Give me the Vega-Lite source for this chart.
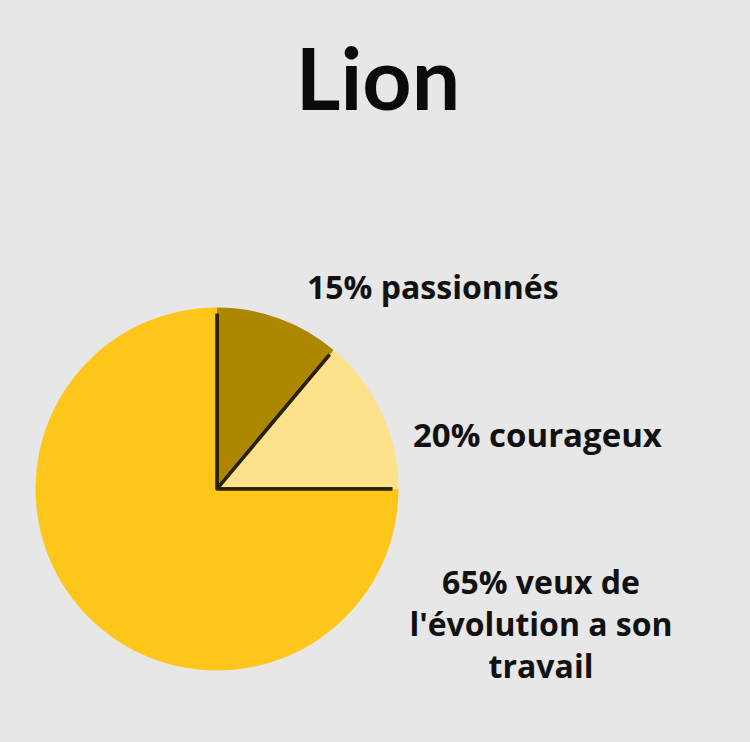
{
  "$schema": "https://vega.github.io/schema/vega-lite/v6.json",
  "autosize": {"type": "none"},
  "width": 362,
  "height": 362,
  "padding": {"left": 36, "top": 308, "right": 352, "bottom": 72},
  "background": "#e7e7e7",
  "config": {"view": {"stroke": null}},
  "data": {
    "values": [
      {"segment": "passionnés", "label": "15% passionnés", "value": 11.1, "order": 1},
      {"segment": "courageux", "label": "20% courageux", "value": 13.9, "order": 2},
      {"segment": "évolution", "label": "65% veux de\nl'évolution a son\ntravail", "value": 75, "order": 3}
    ]
  },
  "layer": [
    {
      "mark": {"type": "arc", "outerRadius": 178, "stroke": "#2a2100", "strokeWidth": 3.5, "strokeJoin": "round"},
      "encoding": {
        "theta": {"field": "value", "type": "quantitative", "stack": true},
        "order": {"field": "order", "type": "quantitative"},
        "color": {
          "field": "segment",
          "type": "nominal",
          "scale": {"domain": ["passionnés", "courageux", "évolution"], "range": ["#ae8700", "#fde28b", "#fec61b"]},
          "legend": null
        }
      }
    },
    {
      "mark": {"type": "arc", "innerRadius": 175.5, "outerRadius": 181.5, "stroke": null},
      "encoding": {
        "theta": {"field": "value", "type": "quantitative", "stack": true},
        "order": {"field": "order", "type": "quantitative"},
        "color": {"field": "segment", "type": "nominal", "legend": null}
      }
    },
    {
      "transform": [{"filter": "datum.order == 1"}],
      "mark": {"type": "text", "x": 271, "y": -9, "align": "left", "baseline": "alphabetic", "font": "Open Sans", "fontWeight": "bold", "fontSize": 32, "color": "#111111", "clip": false},
      "encoding": {"text": {"field": "label", "type": "nominal"}}
    },
    {
      "transform": [{"filter": "datum.order == 2"}],
      "mark": {"type": "text", "x": 377, "y": 139, "align": "left", "baseline": "alphabetic", "font": "Open Sans", "fontWeight": "bold", "fontSize": 33, "color": "#111111", "clip": false},
      "encoding": {"text": {"field": "label", "type": "nominal"}}
    },
    {
      "transform": [{"filter": "datum.order == 3"}],
      "mark": {"type": "text", "x": 505, "y": 286, "align": "center", "baseline": "alphabetic", "font": "Open Sans", "fontWeight": "bold", "fontSize": 32, "lineBreak": "\n", "lineHeight": 42, "color": "#111111", "clip": false},
      "encoding": {"text": {"field": "label", "type": "nominal"}}
    },
    {
      "data": {"values": [{"title": "Lion"}]},
      "mark": {"type": "text", "x": 342, "y": -198, "align": "center", "baseline": "alphabetic", "font": "Lato", "fontWeight": "bold", "fontSize": 86, "color": "#0a0a0a", "clip": false},
      "encoding": {"text": {"field": "title", "type": "nominal"}}
    }
  ]
}
